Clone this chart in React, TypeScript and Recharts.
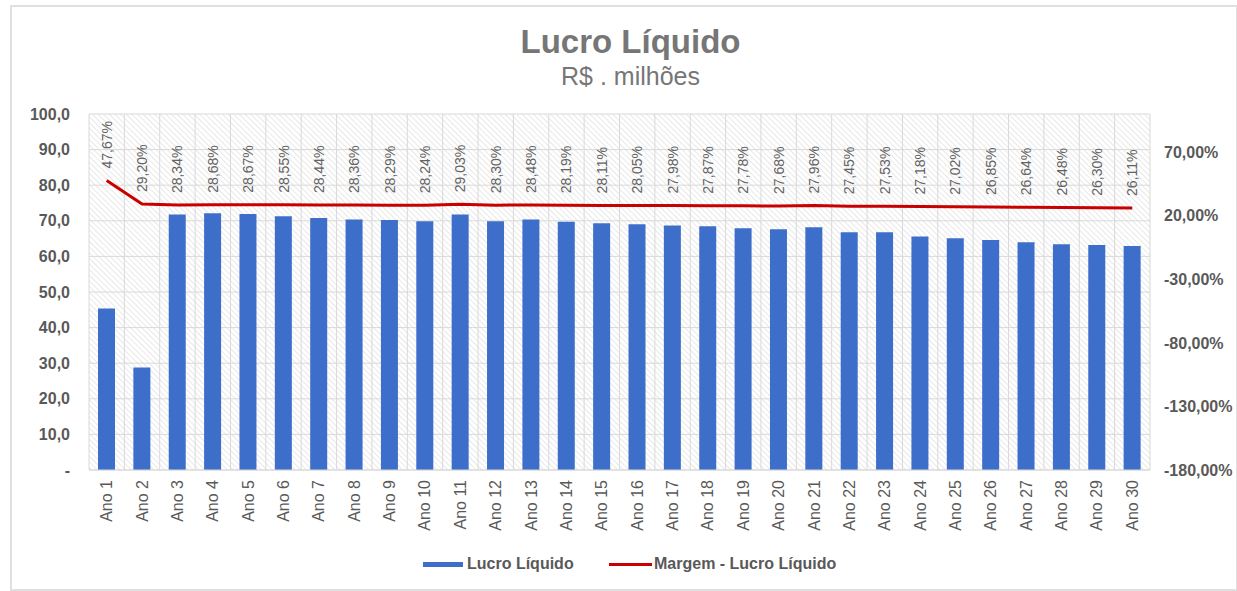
import { ComposedChart, Bar, Line, XAxis, YAxis, CartesianGrid, LabelList } from 'recharts';

const categories = Array.from({ length: 30 }, (_, i) => `Ano ${i + 1}`);

const lucroLiquido = [
  45.4, 28.8, 71.8, 72.1, 71.9, 71.3, 70.8, 70.4, 70.2, 69.9,
  71.8, 69.9, 70.4, 69.7, 69.3, 69.0, 68.7, 68.5, 67.9, 67.6,
  68.2, 66.8, 66.8, 65.6, 65.1, 64.6, 64.0, 63.4, 63.2, 62.9,
];

const margem = [
  47.67, 29.2, 28.34, 28.68, 28.67, 28.55, 28.44, 28.36, 28.29, 28.24,
  29.03, 28.3, 28.48, 28.19, 28.11, 28.05, 27.98, 27.87, 27.78, 27.68,
  27.96, 27.45, 27.53, 27.18, 27.02, 26.85, 26.64, 26.48, 26.3, 26.11,
];

const leftTicks = [0, 10, 20, 30, 40, 50, 60, 70, 80, 90, 100];
const rightTicks = [-180, -130, -80, -30, 20, 70];

const data = categories.map((name, i) => ({ name, lucro: lucroLiquido[i], margem: margem[i] }));

const FONT = '"Liberation Sans", Arial, sans-serif';
const TEXT = '#595959';
const BLUE = '#3D6ECA';
const RED = '#C80000';
const GRID = '#d9d9d9';

const fmtLeft = (v: number) => (v === 0 ? '-' : v.toFixed(1).replace('.', ','));
const fmtPct = (v: number) => `${v.toFixed(2).replace('.', ',')}%`;

const XTick = ({ x, y, payload }: any) => (
  <text
    transform={`translate(${x},${y + 2}) rotate(-90)`}
    textAnchor="end"
    dominantBaseline="central"
    fontSize={16}
    fontFamily={FONT}
    fill={TEXT}
  >
    {payload.value}
  </text>
);

const MarginLabel = ({ x, y, value }: any) => (
  <text
    transform={`translate(${x},${y - 12}) rotate(-90)`}
    textAnchor="start"
    dominantBaseline="central"
    fontSize={14}
    fontFamily={FONT}
    fill="#636363"
  >
    {fmtPct(value)}
  </text>
);

export default function App() {
  return (
    <div style={{ position: 'relative', width: 1237, height: 591, background: '#fff', fontFamily: FONT }}>
      <style>{'body{margin:0}'}</style>
      <div style={{ position: 'absolute', left: 10, top: 5, width: 1224, height: 582, border: `2px solid #e0e0e0` }} />
      <div style={{ position: 'absolute', left: 0, width: 1261, top: 23, textAlign: 'center', fontSize: 33, fontWeight: 'bold', color: '#767676' }}>
        Lucro Líquido
      </div>
      <div style={{ position: 'absolute', left: 0, width: 1261, top: 62, textAlign: 'center', fontSize: 25, color: '#767676' }}>
        R$ . milhões
      </div>

      <div style={{ position: 'absolute', left: 0, top: 0 }}>
        <ComposedChart width={1237} height={591} data={data} margin={{ top: 114, right: 0, bottom: 31, left: 0 }} barSize={17}>
          <defs>
            <pattern id="hatch" width="4" height="4" patternUnits="userSpaceOnUse" patternTransform="rotate(-45)">
              <rect width="4" height="4" fill="#ffffff" />
              <line x1="0" y1="0" x2="0" y2="4" stroke="#e2e2e2" strokeWidth="1.6" />
            </pattern>
          </defs>
          <CartesianGrid
            yAxisId="left"
            stroke={GRID}
            fill="url(#hatch)"
            verticalCoordinatesGenerator={({ offset }: any) =>
              Array.from({ length: categories.length + 1 }, (_, i) => offset.left + (i * offset.width) / categories.length)
            }
          />
          <XAxis
            dataKey="name"
            height={90}
            interval={0}
            tick={<XTick />}
            tickLine={false}
            axisLine={{ stroke: GRID }}
          />
          <YAxis
            yAxisId="left"
            orientation="left"
            width={89}
            domain={[0, 100]}
            ticks={leftTicks}
            tickFormatter={fmtLeft}
            tickLine={false}
            axisLine={false}
            tickSize={0}
            tickMargin={19}
            tick={{ fontSize: 16, fontWeight: 'bold', fill: TEXT, fontFamily: FONT }}
          />
          <YAxis
            yAxisId="right"
            orientation="right"
            width={87}
            domain={[-180, 100]}
            ticks={rightTicks}
            tickFormatter={fmtPct}
            tickLine={false}
            axisLine={false}
            tickSize={0}
            tickMargin={14}
            tick={{ fontSize: 16, fontWeight: 'bold', fill: TEXT, fontFamily: FONT }}
          />
          <Bar yAxisId="left" dataKey="lucro" fill={BLUE} isAnimationActive={false} />
          <Line
            yAxisId="right"
            dataKey="margem"
            stroke={RED}
            strokeWidth={3}
            dot={false}
            activeDot={false}
            type="linear"
            isAnimationActive={false}
          >
            <LabelList dataKey="margem" content={<MarginLabel />} />
          </Line>
        </ComposedChart>
      </div>

      <div style={{ position: 'absolute', left: 423, top: 562, width: 40, height: 5, background: BLUE }} />
      <div style={{ position: 'absolute', left: 467, top: 554, fontSize: 16, fontWeight: 'bold', color: TEXT, lineHeight: '20px' }}>
        Lucro Líquido
      </div>
      <div style={{ position: 'absolute', left: 609, top: 563, width: 43, height: 3, background: RED }} />
      <div style={{ position: 'absolute', left: 654, top: 554, fontSize: 16, fontWeight: 'bold', color: TEXT, lineHeight: '20px' }}>
        Margem - Lucro Líquido
      </div>
    </div>
  );
}
